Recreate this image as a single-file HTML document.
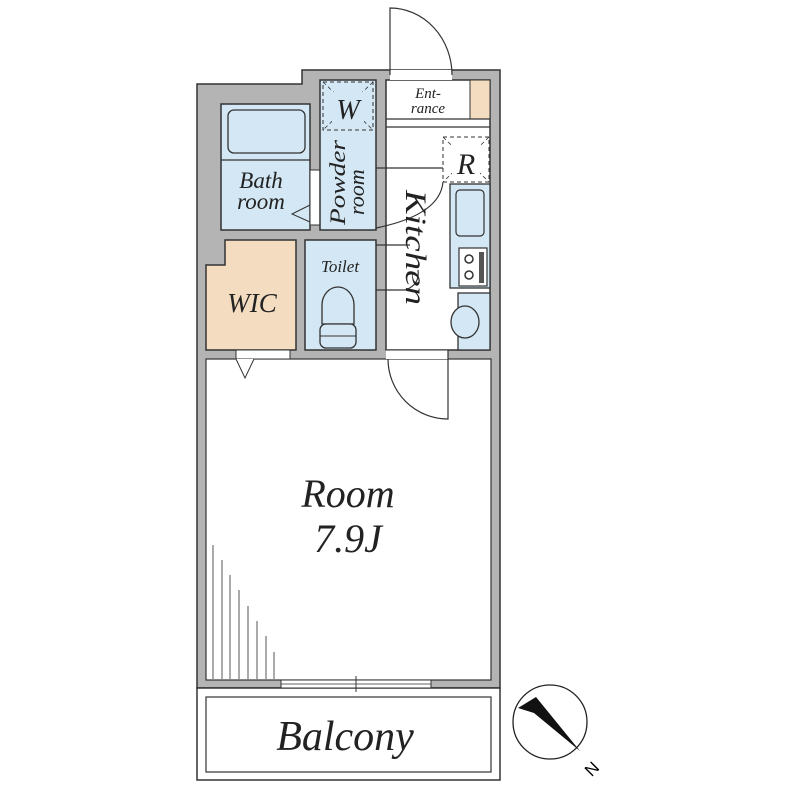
<!DOCTYPE html>
<html><head><meta charset="utf-8"><style>html,body{margin:0;padding:0;background:#fff}svg{display:block}</style></head><body>
<svg width="800" height="800" viewBox="0 0 800 800" xmlns="http://www.w3.org/2000/svg" font-family="Liberation Serif, serif" font-style="italic">
<rect width="800" height="800" fill="#fff"/>
<path d="M197,84 H302 V70 H500 V688 H197 Z" fill="#b4b4b4" stroke="#333" stroke-width="1.5"/>
<rect x="197" y="688" width="303" height="92" fill="#fff" stroke="#333" stroke-width="1.5"/>
<rect x="206" y="697" width="285" height="75" fill="#fff" stroke="#333" stroke-width="1.2"/>
<rect x="206" y="359" width="285" height="321" fill="#fff" stroke="#333" stroke-width="1.2"/>
<rect x="281" y="680" width="150" height="8" fill="#fff" stroke="#333" stroke-width="1"/>
<line x1="281" y1="684" x2="431" y2="684" stroke="#333" stroke-width="0.8"/>
<line x1="356" y1="676" x2="356" y2="692" stroke="#333" stroke-width="1"/>
<g stroke="#555" stroke-width="1">
<line x1="213" y1="545" x2="213" y2="679"/><line x1="222" y1="560" x2="222" y2="679"/>
<line x1="230" y1="575" x2="230" y2="679"/><line x1="239" y1="590" x2="239" y2="679"/>
<line x1="248" y1="606" x2="248" y2="679"/><line x1="257" y1="621" x2="257" y2="679"/>
<line x1="266" y1="636" x2="266" y2="679"/><line x1="274" y1="652" x2="274" y2="679"/>
</g>
<rect x="221" y="104" width="89" height="126" fill="#d3e8f4" stroke="#333" stroke-width="1.5"/>
<rect x="228" y="110" width="77" height="43" rx="6" fill="#d3e8f4" stroke="#333" stroke-width="1.3"/>
<line x1="221" y1="160" x2="310" y2="160" stroke="#333" stroke-width="1.3"/>
<rect x="310" y="170" width="10" height="55" fill="#fff" stroke="#333" stroke-width="1"/>
<path d="M310,205 L292,214 L310,222" fill="none" stroke="#333" stroke-width="1"/>
<rect x="320" y="80" width="56" height="150" fill="#d3e8f4" stroke="#333" stroke-width="1.5"/>
<rect x="323" y="82" width="50" height="48" fill="none" stroke="#333" stroke-width="1" stroke-dasharray="4,3"/>
<g stroke="#333" stroke-width="0.8" stroke-dasharray="4,3"><line x1="323" y1="82" x2="373" y2="130"/><line x1="373" y1="82" x2="323" y2="130"/></g>
<rect x="332" y="92" width="32" height="30" fill="#d3e8f4"/>
<rect x="386" y="80" width="104" height="270" fill="#fff" stroke="#333" stroke-width="1.5"/>
<rect x="470" y="80" width="20" height="39" fill="#f3dcc0" stroke="#333" stroke-width="1"/>
<line x1="386" y1="119" x2="490" y2="119" stroke="#333" stroke-width="1.2"/>
<line x1="386" y1="127" x2="490" y2="127" stroke="#333" stroke-width="1.2"/>
<rect x="443" y="137" width="46" height="45" fill="none" stroke="#333" stroke-width="1" stroke-dasharray="4,3"/>
<g stroke="#333" stroke-width="0.8" stroke-dasharray="4,3"><line x1="443" y1="137" x2="489" y2="182"/><line x1="489" y1="137" x2="443" y2="182"/></g>
<rect x="452" y="144" width="28" height="32" fill="#fff"/>
<rect x="450" y="184" width="40" height="104" fill="#d3e8f4" stroke="#333" stroke-width="1.3"/>
<rect x="456" y="190" width="28" height="46" rx="4" fill="#d3e8f4" stroke="#333" stroke-width="1.2"/>
<rect x="459" y="248" width="28" height="38" fill="#fff" stroke="#333" stroke-width="1.2"/>
<circle cx="469" cy="259" r="4" fill="none" stroke="#333" stroke-width="1.5"/>
<circle cx="469" cy="275" r="4" fill="none" stroke="#333" stroke-width="1.5"/>
<rect x="479" y="252" width="5" height="31" fill="#555"/>
<rect x="458" y="293" width="32" height="57" fill="#d3e8f4" stroke="#333" stroke-width="1.3"/>
<ellipse cx="465" cy="322" rx="14" ry="16" fill="#d3e8f4" stroke="#333" stroke-width="1.3"/>
<g fill="none" stroke="#333" stroke-width="1.2">
<path d="M376,168 H443 M443,182 Q440,215 376,228"/>
<path d="M376,245 H410 M376,290 H405 Q420,285 418,270"/>
</g>
<rect x="305" y="240" width="71" height="110" fill="#d3e8f4" stroke="#333" stroke-width="1.5"/>
<path d="M322,324 V305 A16,18 0 0 1 354,305 V324 Z" fill="#d3e8f4" stroke="#333" stroke-width="1.3"/>
<rect x="320" y="324" width="36" height="24" rx="6" fill="#d3e8f4" stroke="#333" stroke-width="1.3"/>
<line x1="320" y1="336" x2="356" y2="336" stroke="#333" stroke-width="1"/>
<path d="M225,240 H296 V350 H206 V265 H225 Z" fill="#f3dcc0" stroke="#333" stroke-width="1.5"/>
<rect x="236" y="350" width="54" height="9" fill="#fff" stroke="#333" stroke-width="1"/>
<path d="M236,359 L245,378 L254,359" fill="#fff" stroke="#333" stroke-width="1"/>
<rect x="386" y="350" width="62" height="9" fill="#fff"/>
<line x1="386" y1="350" x2="448" y2="350" stroke="#333" stroke-width="1"/>
<path d="M388,359 A60,60 0 0 0 448,419 V350" fill="none" stroke="#333" stroke-width="1.2"/>
<rect x="390" y="70" width="62" height="10" fill="#fff"/>
<path d="M390,75 V8 A62,67 0 0 1 452,75" fill="none" stroke="#333" stroke-width="1.2"/>
<g fill="#222">
<text x="348" y="119" font-size="28" text-anchor="middle">W</text>
<text x="428" y="98" font-size="15" text-anchor="middle">Ent-</text>
<text x="428" y="113" font-size="15" text-anchor="middle">rance</text>
<text x="466" y="174" font-size="30" text-anchor="middle">R</text>
<text x="261" y="188" font-size="23" text-anchor="middle">Bath</text>
<text x="261" y="209" font-size="23" text-anchor="middle">room</text>
<text transform="translate(345,225) rotate(-90)" font-size="22" textLength="85" lengthAdjust="spacingAndGlyphs">Powder</text>
<text transform="translate(364,215) rotate(-90)" font-size="22">room</text>
<text transform="translate(406,190) rotate(90)" font-size="30" textLength="115" lengthAdjust="spacingAndGlyphs">Kitchen</text>
<text x="340" y="272" font-size="17" text-anchor="middle">Toilet</text>
<text x="252" y="312" font-size="27" text-anchor="middle">WIC</text>
<text x="348" y="507" font-size="40" text-anchor="middle">Room</text>
<text x="348" y="552" font-size="40" text-anchor="middle">7.9J</text>
<text x="345" y="750" font-size="42" text-anchor="middle">Balcony</text>
</g>
<circle cx="550" cy="722" r="37" fill="#fff" stroke="#222" stroke-width="1.3"/>
<path d="M518,708 L536,697 L580,751 L534,713 Z" fill="#111"/>
<text transform="translate(596,773) rotate(-45)" font-size="17" font-style="normal" font-family="Liberation Sans, sans-serif" text-anchor="middle">N</text>
</svg>
</body></html>
